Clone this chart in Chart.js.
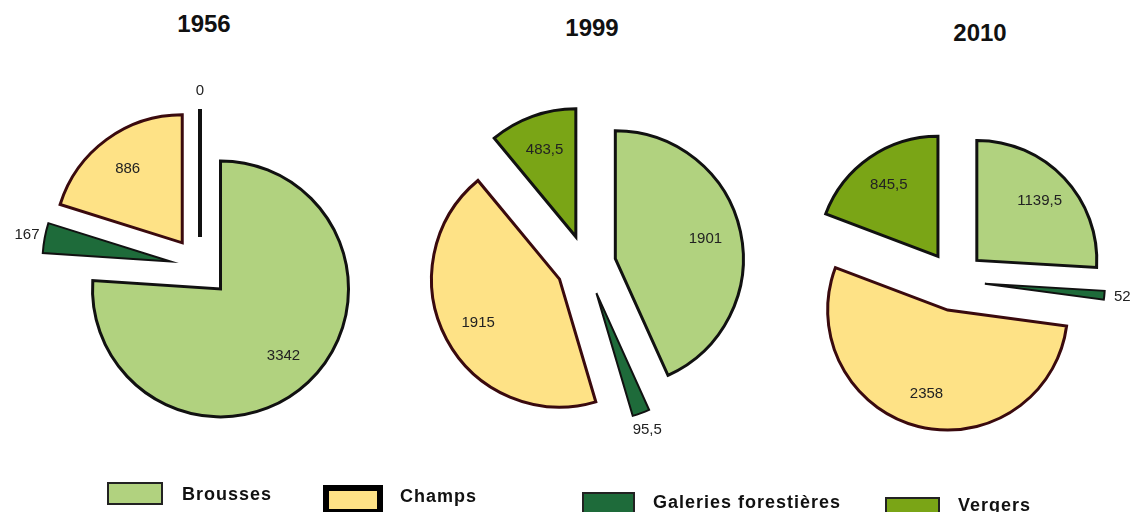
<!DOCTYPE html>
<html>
<head>
<meta charset="utf-8">
<script src="https://cdn.jsdelivr.net/npm/chart.js@4/dist/chart.umd.min.js"></script>
<style>
  html, body { margin: 0; padding: 0; background: #fff; overflow: hidden; }
  body { width: 1131px; height: 512px; position: relative; font-family: "Liberation Sans", Arial, sans-serif; }
  canvas { position: absolute; }
  .year { position: absolute; font-weight: bold; font-size: 24px; line-height: 24px; transform: translateX(-50%); color: #111; }
  .box { position: absolute; box-sizing: border-box; }
  .lbl { position: absolute; font-weight: bold; font-size: 18px; line-height: 18px; letter-spacing: 1px; color: #111; margin-top: -9px; }
</style>
</head>
<body>

<div class="year" style="left:204px; top:12px;" id="t0"></div>
<div class="year" style="left:592px; top:16px;" id="t1"></div>
<div class="year" style="left:980px; top:21px;" id="t2"></div>

<canvas id="pie1956" width="380" height="440" style="left:10px; top:47px;"></canvas>
<canvas id="pie1999" width="380" height="440" style="left:396px; top:45px;"></canvas>
<canvas id="pie2010" width="380" height="440" style="left:765px; top:61px;"></canvas>

<div id="legend"></div>

<script>
// données (ordre des parts, sens horaire depuis midi)
var categories = ['Brousses', 'Galeries forestières', 'Champs', 'Vergers'];
var years = ['1956', '1999', '2010'];
var values1956 = [3342, 167, 886, 0];
var values1999 = [1901, 95.5, 1915, 483.5];
var values2010 = [1139.5, 52, 2358, 845.5];
var legendOrder = ['Brousses', 'Champs', 'Galeries forestières', 'Vergers'];

var fills = {
  'Brousses': '#b1d27f',
  'Galeries forestières': '#1e6b3a',
  'Champs': '#fee286',
  'Vergers': '#7aa516'
};
var borders = {
  'Brousses': '#111',
  'Galeries forestières': '#111',
  'Champs': '#3a0a0e',
  'Vergers': '#111'
};

function label(v) {
  return String(v).replace('.', ',');
}

// parts décalées : même rayon et même angle pour toutes
// (Chart.js agrandit et rétrécit les parts quand offset > 0)
var keepRadius = {
  id: 'keepRadius',
  beforeDatasetsDraw: function (chart) {
    var meta = chart.getDatasetMeta(0);
    var R = meta.controller.outerRadius;
    var start = -Math.PI / 2;
    meta.data.forEach(function (arc) {
      var shift = (arc.options.offset || 0) / 4;
      var ro = shift * (1 - Math.sin(Math.min(Math.PI, arc.circumference)));
      var widen = ro / (Math.PI * R) / 2;
      arc.outerRadius = R - ro;
      arc.startAngle = start - widen;
      arc.endAngle = start + arc.circumference + widen;
      start += arc.circumference;
    });
  }
};

// valeurs écrites dans / à côté des parts
var sliceLabels = {
  id: 'sliceLabels',
  afterDatasetsDraw: function (chart) {
    var ctx = chart.ctx;
    var meta = chart.getDatasetMeta(0);
    var values = chart.data.datasets[0].data;
    var total = values.reduce(function (a, b) { return a + b; }, 0);
    var R = meta.controller.outerRadius;
    ctx.save();
    meta.data.forEach(function (arc, i) {
      var mid = (arc.startAngle + arc.endAngle) / 2;
      var shift = (arc.options.offset || 0) / 4;
      if (values[i] === 0) {
        ctx.beginPath();
        ctx.lineWidth = 4;
        ctx.strokeStyle = '#111';
        ctx.moveTo(arc.x + Math.cos(mid) * shift, arc.y + Math.sin(mid) * shift);
        ctx.lineTo(arc.x + Math.cos(mid) * (shift + R), arc.y + Math.sin(mid) * (shift + R));
        ctx.stroke();
      }
      var small = values[i] / total < 0.05;
      var dist = shift + (small ? R + 18 : R * 0.72);
      ctx.font = '15px "Liberation Sans", Arial, sans-serif';
      ctx.fillStyle = '#222';
      ctx.textAlign = 'center';
      ctx.textBaseline = 'middle';
      ctx.fillText(label(values[i]), arc.x + Math.cos(mid) * dist, arc.y + Math.sin(mid) * dist);
    });
    ctx.restore();
  }
};

function makePie(id, values, radius) {
  var ctx = document.getElementById(id);
  return new Chart(ctx, {
    type: 'pie',
    data: {
      labels: categories,
      datasets: [{
        data: values,
        backgroundColor: categories.map(function (c) { return fills[c]; }),
        borderColor: categories.map(function (c) { return borders[c]; }),
        borderWidth: [3, 2, 3, 3],
        borderJoinStyle: 'miter',
        offset: 120
      }]
    },
    options: {
      responsive: false,
      animation: false,
      radius: radius,
      events: [],
      plugins: {
        legend: { display: false },
        tooltip: { enabled: false }
      }
    },
    plugins: [keepRadius, sliceLabels]
  });
}

makePie('pie1956', values1956, 128);
makePie('pie1999', values1999, 128);
makePie('pie2010', values2010, 120);

years.forEach(function (y, i) {
  document.getElementById('t' + i).textContent = y;
});

// légende commune
var legendSpots = [
  { box: [107, 482, 56, 23, 2], text: [182, 494] },
  { box: [323, 485, 60, 30, 6], text: [400, 496] },
  { box: [582, 492, 53, 24, 2], text: [653, 502] },
  { box: [885, 497, 55, 22, 2], text: [958, 505] }
];
var legend = document.getElementById('legend');
legendOrder.forEach(function (name, i) {
  var s = legendSpots[i];
  var b = document.createElement('div');
  b.className = 'box';
  b.style.left = s.box[0] + 'px';
  b.style.top = s.box[1] + 'px';
  b.style.width = s.box[2] + 'px';
  b.style.height = s.box[3] + 'px';
  b.style.background = fills[name];
  b.style.border = s.box[4] + 'px solid ' + (name === 'Champs' ? '#000' : '#222');
  legend.appendChild(b);
  var t = document.createElement('div');
  t.className = 'lbl';
  t.style.left = s.text[0] + 'px';
  t.style.top = s.text[1] + 'px';
  t.textContent = name;
  legend.appendChild(t);
});
</script>
</body>
</html>
